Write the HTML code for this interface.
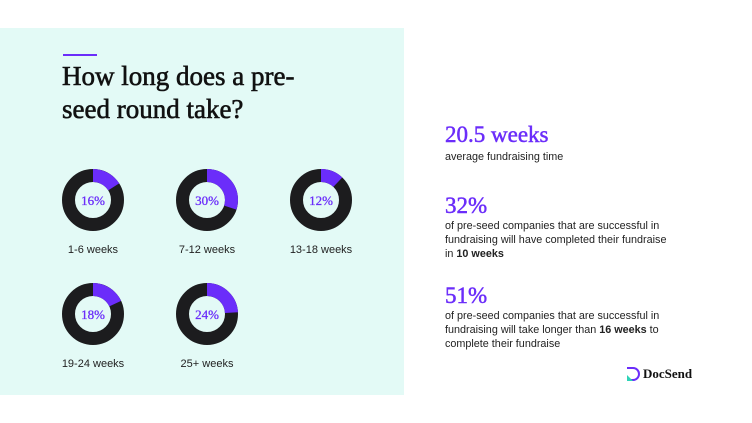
<!DOCTYPE html>
<html><head><style>
body{margin:0;width:752px;height:423px;background:#fff;position:relative;overflow:hidden;font-family:"Liberation Sans",sans-serif;}
.panel{position:absolute;left:0;top:28px;width:404px;height:367px;background:#e3faf6;}
.t{position:absolute;white-space:nowrap;}
.serif{font-family:"Liberation Serif",serif;}
.p{color:#6b2dfa;}
.body{font-size:10.8px;color:#222;line-height:14px;}
.pc{font-family:"Liberation Serif",serif;font-size:13px;}
</style></head><body>
<div class="panel"></div>
<div class="t" style="left:63px;top:54px;width:34px;height:2px;background:#6b2dfa"></div>
<div class="t serif" style="left:62px;top:60px;font-size:27px;line-height:33px;color:#111;-webkit-text-stroke:0.6px #111;">How long does a pre-<br>seed round take?</div>
<svg class="t" style="left:0;top:0" width="404" height="395">
<g fill="none" stroke-width="13">
<g transform="translate(93,200)"><circle r="24.5" stroke="#1c1c1e"/><circle r="24.5" stroke="#6b2dfa" stroke-dasharray="24.6 200" transform="rotate(-90)"/></g>
<g transform="translate(207,200)"><circle r="24.5" stroke="#1c1c1e"/><circle r="24.5" stroke="#6b2dfa" stroke-dasharray="46.2 200" transform="rotate(-90)"/></g>
<g transform="translate(321,200)"><circle r="24.5" stroke="#1c1c1e"/><circle r="24.5" stroke="#6b2dfa" stroke-dasharray="18.5 200" transform="rotate(-90)"/></g>
<g transform="translate(93,314)"><circle r="24.5" stroke="#1c1c1e"/><circle r="24.5" stroke="#6b2dfa" stroke-dasharray="27.7 200" transform="rotate(-90)"/></g>
<g transform="translate(207,314)"><circle r="24.5" stroke="#1c1c1e"/><circle r="24.5" stroke="#6b2dfa" stroke-dasharray="37 200" transform="rotate(-90)"/></g>
</g>
<g class="pc" fill="#6b2dfa" stroke="#6b2dfa" stroke-width="0.3" text-anchor="middle">
<text x="93" y="205">16%</text><text x="207" y="205">30%</text><text x="321" y="205">12%</text>
<text x="93" y="319">18%</text><text x="207" y="319">24%</text>
</g>
<g style="font-family:'Liberation Sans',sans-serif;font-size:11px" fill="#222" text-anchor="middle">
<text x="93" y="253">1-6 weeks</text><text x="207" y="253">7-12 weeks</text><text x="321" y="253">13-18 weeks</text>
<text x="93" y="367">19-24 weeks</text><text x="207" y="367">25+ weeks</text>
</g>
</svg>
<div class="t serif p" style="left:445px;top:122px;font-size:23px;-webkit-text-stroke:0.5px #6b2dfa;">20.5 weeks</div>
<div class="t body" style="left:445px;top:150px;">average fundraising time</div>
<div class="t serif p" style="left:445px;top:193px;font-size:23px;-webkit-text-stroke:0.5px #6b2dfa;">32%</div>
<div class="t body" style="left:445px;top:219px;">of pre-seed companies that are successful in<br>fundraising will have completed their fundraise<br>in <b>10 weeks</b></div>
<div class="t serif p" style="left:445px;top:283px;font-size:23px;-webkit-text-stroke:0.5px #6b2dfa;">51%</div>
<div class="t body" style="left:445px;top:309px;">of pre-seed companies that are successful in<br>fundraising will take longer than <b>16 weeks</b> to<br>complete their fundraise</div>
<svg class="t" style="left:625px;top:366px" width="16" height="16"><path d="M2 2h6a6 6 0 0 1 0 12H6" fill="none" stroke="#6b2dfa" stroke-width="2"/><path d="M2 9v6h6z" fill="#2ed3b7"/></svg>
<div class="t serif" style="left:643px;top:366px;font-size:13px;font-weight:bold;color:#111;">DocSend</div>
</body></html>
